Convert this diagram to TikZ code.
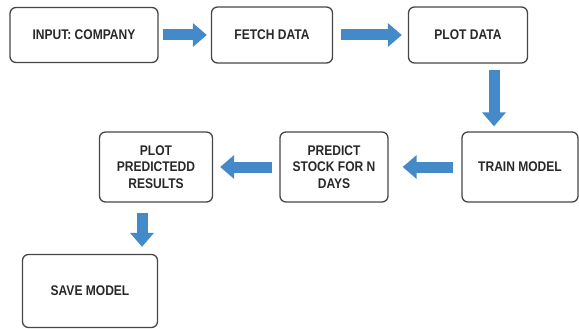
\documentclass[tikz,border=0pt]{standalone}
\usepackage{fontspec}
\setmainfont{Liberation Sans}
\newfontfamily\boxfont[FakeStretch = 0.86]{Liberation Sans}
\usetikzlibrary{arrows.meta}
\usetikzlibrary{positioning}
\definecolor{flowblue}{RGB}{68, 138, 200}
\definecolor{boxgray}{RGB}{70, 70, 70}
\definecolor{textgray}{RGB}{40, 40, 40}
\tikzset{stepbox/.style = {draw = boxgray, line width = 1.3pt, rounded corners = 6pt,
                           align = center, text = textgray,
                           font = \boxfont\bfseries\fontsize{14}{16.7}\selectfont,
                           inner sep = 2pt},
         flow/.style = {draw = flowblue, line width = 11pt,
                        -{Triangle[width = 23pt, length = 14pt]}}}

\begin{document}
\begin{tikzpicture}[x = 1pt, y = -1pt]
      \useasboundingbox (0, 0) rectangle (579, 329);

      \node [stepbox, minimum width = 148pt, minimum height = 55pt] (input) at (84, 35) {INPUT: COMPANY};
      \node [stepbox, minimum width = 121pt, minimum height = 56pt] (fetch) at (272, 35) {FETCH DATA};
      \node [stepbox, minimum width = 119pt, minimum height = 56pt] (plot) at (468, 35) {PLOT DATA};
      \node [stepbox, minimum width = 116pt, minimum height = 70pt] (train) at (520, 167) {TRAIN MODEL};
      \node [stepbox, minimum width = 108pt, minimum height = 70pt] (predict) at (334, 167) {PREDICT\\STOCK FOR N\\DAYS};
      \node [stepbox, minimum width = 113pt, minimum height = 70pt] (result) at (156, 167) {PLOT\\PREDICTEDD\\RESULTS};
      \node [stepbox, minimum width = 135pt, minimum height = 73pt] (save) at (90, 291) {SAVE MODEL};

      \draw [flow, shorten < = 4pt, shorten > = 4pt] (input) -- (fetch);
      \draw [flow, shorten < = 8pt, shorten > = 6pt] (fetch) -- (plot);
      \draw [flow, shorten < = 6pt, shorten > = 5pt] ([xshift = 26pt] plot.south) -- ([xshift = 26pt] plot.south |- train.north);
      \draw [flow, shorten < = 8pt, shorten > = 14pt] (train) -- (predict);
      \draw [flow, shorten < = 7pt, shorten > = 7pt] (predict) -- (result);
      \draw [flow, shorten < = 10pt, shorten > = 7pt] ([xshift = -14pt] result.south) -- ([xshift = -14pt] result.south |- save.north);
    \end{tikzpicture}
\end{document}
